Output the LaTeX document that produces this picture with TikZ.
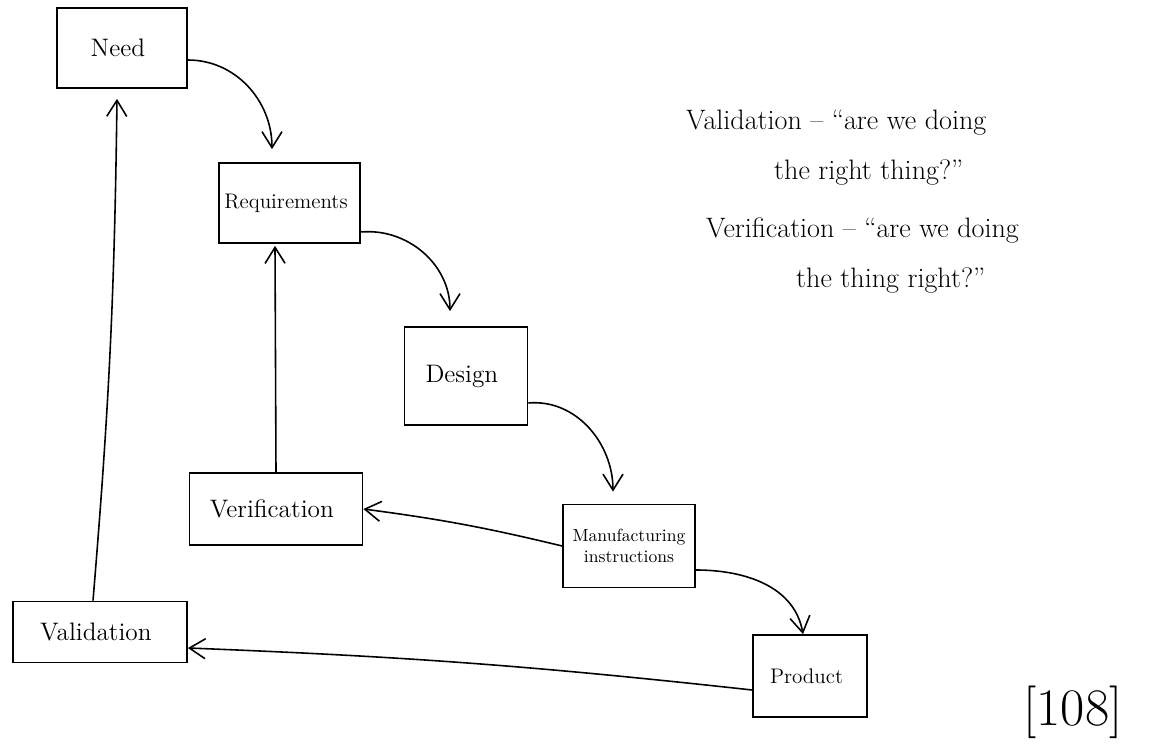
\documentclass[tikz,border=0pt]{standalone}
\usetikzlibrary{arrows.meta}

\begin{document}
\begin{tikzpicture}[
        box/.style={draw, line width=1pt, font=\Large, align=center},
        flow/.style={line width=0.9pt, -{Straight Barb[length=3.2mm,width=4mm]}},
        note/.style={anchor=base west, font=\fontsize{16}{19}\selectfont}
    ]
                \useasboundingbox (0,0) rectangle (23.02,15.06);

                \node[box, minimum width=2.6cm, minimum height=1.6cm] (Need) at (2.44, 14.10) { Need };
                \node[box, minimum width=2.66cm, minimum height=1.6cm, font=\large] (Req) at (5.79, 11.00) { Requirements };
                \node[box, minimum width=2.46cm, minimum height=1.96cm] (Des) at (9.32, 7.54) { Design };
                \node[box, minimum width=3.46cm, minimum height=1.44cm] (Verif) at (5.52, 4.88) { Verification };
                \node[box, minimum width=2.64cm, minimum height=1.66cm, font=\normalsize] (Manu) at (12.58, 4.14) { Manufacturing\\ instructions };
                \node[box, minimum width=3.48cm, minimum height=1.22cm] (Valid) at (2.00, 2.42) { Validation };
                \node[box, minimum width=2.28cm, minimum height=1.64cm, font=\large] (Prod) at (16.20, 1.54) { Product };

                \node[note] (val1) at (13.60, 12.46) { Validation -- ``are we doing };
                \node[note] (val2) at (15.36, 11.46) { the right thing?'' };
                \node[note] (ver1) at (14.00, 10.30) { Verification -- ``are we doing };
                \node[note] (ver2) at (15.80, 9.30) { the thing right?'' };
                \node[font=\fontsize{30}{36}\selectfont] (page) at (21.46, 0.82) { [108] };

                \draw[flow] ([yshift=-0.24cm]Need.east) to[out=0, in=90] ([xshift=-0.35cm, yshift=0.26cm]Req.north);
                \draw[flow] ([yshift=-0.58cm]Req.east) to[out=5, in=90] ([xshift=-0.32cm, yshift=0.30cm]Des.north);
                \draw[flow] ([yshift=-0.54cm]Des.east) to[out=5, in=90] ([xshift=-0.32cm, yshift=0.24cm]Manu.north);
                \draw[flow] ([yshift=-0.48cm]Manu.east) to[out=0, in=100] ([xshift=-0.14cm]Prod.north);

                \draw[flow] ([xshift=-0.14cm]Valid.north) to[bend right=2] ([xshift=-0.10cm, yshift=-0.20cm]Need.south);
                \draw[flow] (Verif.north) to ([xshift=-0.29cm, yshift=-0.04cm]Req.south);
                \draw[flow] (Manu.west) to[bend right=3] (Verif.east);
                \draw[flow] ([yshift=-0.28cm]Prod.west) to[bend right=2] ([yshift=-0.32cm]Valid.east);
            \end{tikzpicture}
\end{document}
